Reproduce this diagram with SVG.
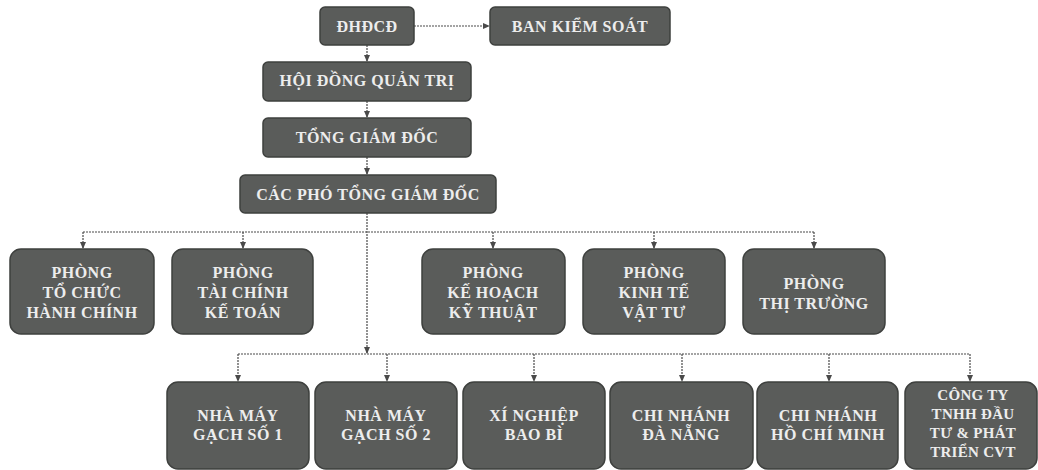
<svg xmlns="http://www.w3.org/2000/svg" width="1038" height="470" viewBox="0 0 1038 470">
<defs>
<marker id="ah" viewBox="0 0 8 8" refX="7" refY="4" markerWidth="7" markerHeight="7" markerUnits="userSpaceOnUse" orient="auto">
<path d="M0,0.5 L8,4 L0,7.5 Z" fill="#4a4a4a"/>
</marker>
</defs>
<style>
.box{fill:#5a5c5a;stroke:#3e403e;stroke-width:1.5}
.t{font-family:"Liberation Serif","Times New Roman",serif;font-weight:bold;fill:#ededed;text-anchor:middle;font-size:16px;letter-spacing:0.5px}
.sm{font-size:15px;letter-spacing:0.3px}
.c{fill:none;stroke:#4a4a4a;stroke-width:1.2;stroke-dasharray:2 1}
</style>
<rect width="1038" height="470" fill="#ffffff"/>
<g id="connectors">
<path class="c" d="M414,26 H489" marker-end="url(#ah)"/>
<path class="c" d="M367,45 V61" marker-end="url(#ah)"/>
<path class="c" d="M367,101 V117" marker-end="url(#ah)"/>
<path class="c" d="M367,157 V174" marker-end="url(#ah)"/>
<path class="c" d="M367,213 V353" marker-end="url(#ah)"/>
<path class="c" d="M83,232 H814"/>
<path class="c" d="M83,232 V248" marker-end="url(#ah)"/>
<path class="c" d="M243,232 V248" marker-end="url(#ah)"/>
<path class="c" d="M493,232 V248" marker-end="url(#ah)"/>
<path class="c" d="M654,232 V248" marker-end="url(#ah)"/>
<path class="c" d="M814,232 V248" marker-end="url(#ah)"/>
<path class="c" d="M238,354 H970"/>
<path class="c" d="M238,354 V381" marker-end="url(#ah)"/>
<path class="c" d="M387,354 V381" marker-end="url(#ah)"/>
<path class="c" d="M534,354 V381" marker-end="url(#ah)"/>
<path class="c" d="M682,354 V381" marker-end="url(#ah)"/>
<path class="c" d="M829,354 V381" marker-end="url(#ah)"/>
<path class="c" d="M970,354 V381" marker-end="url(#ah)"/>
</g>
<g id="dhdcd"><rect class="box" x="320" y="7" width="94" height="38" rx="5"/><text class="t" x="367" y="32">ĐHĐCĐ</text></g>
<g id="bks"><rect class="box" x="490" y="7" width="180" height="38" rx="5"/><text class="t" x="580" y="32">BAN KIỂM SOÁT</text></g>
<g id="hdqt"><rect class="box" x="263" y="62" width="208" height="39" rx="5"/><text class="t" x="367" y="86">HỘI ĐỒNG QUẢN TRỊ</text></g>
<g id="tgd"><rect class="box" x="263" y="118" width="208" height="39" rx="5"/><text class="t" x="367" y="143">TỔNG GIÁM ĐỐC</text></g>
<g id="cptgd"><rect class="box" x="240" y="175" width="256" height="38" rx="5"/><text class="t" x="368" y="200">CÁC PHÓ TỔNG GIÁM ĐỐC</text></g>
<g id="p1"><rect class="box" x="10" y="249" width="144" height="85" rx="11"/><text class="t" x="82" y="278">PHÒNG</text><text class="t" x="82" y="298">TỔ CHỨC</text><text class="t" x="82" y="318">HÀNH CHÍNH</text></g>
<g id="p2"><rect class="box" x="172" y="249" width="141" height="85" rx="11"/><text class="t" x="243" y="278">PHÒNG</text><text class="t" x="243" y="298">TÀI CHÍNH</text><text class="t" x="243" y="318">KẾ TOÁN</text></g>
<g id="p3"><rect class="box" x="422" y="249" width="143" height="85" rx="11"/><text class="t" x="493" y="278">PHÒNG</text><text class="t" x="493" y="298">KẾ HOẠCH</text><text class="t" x="493" y="318">KỸ THUẬT</text></g>
<g id="p4"><rect class="box" x="583" y="249" width="142" height="85" rx="11"/><text class="t" x="654" y="278">PHÒNG</text><text class="t" x="654" y="298">KINH TẾ</text><text class="t" x="654" y="318">VẬT TƯ</text></g>
<g id="p5"><rect class="box" x="743" y="249" width="142" height="85" rx="11"/><text class="t" x="814" y="289">PHÒNG</text><text class="t" x="814" y="309">THỊ TRƯỜNG</text></g>
<g id="c1"><rect class="box" x="167" y="382" width="142" height="87" rx="11"/><text class="t" x="238" y="421">NHÀ MÁY</text><text class="t" x="238" y="440">GẠCH SỐ 1</text></g>
<g id="c2"><rect class="box" x="315" y="382" width="142" height="87" rx="11"/><text class="t" x="386" y="421">NHÀ MÁY</text><text class="t" x="386" y="440">GẠCH SỐ 2</text></g>
<g id="c3"><rect class="box" x="463" y="382" width="142" height="87" rx="11"/><text class="t" x="534" y="421">XÍ NGHIỆP</text><text class="t" x="534" y="440">BAO BÌ</text></g>
<g id="c4"><rect class="box" x="610" y="382" width="143" height="87" rx="11"/><text class="t" x="681" y="421">CHI NHÁNH</text><text class="t" x="681" y="440">ĐÀ NẴNG</text></g>
<g id="c5"><rect class="box" x="757" y="382" width="141" height="87" rx="11"/><text class="t" x="828" y="421">CHI NHÁNH</text><text class="t" x="828" y="440">HỒ CHÍ MINH</text></g>
<g id="c6"><rect class="box" x="905" y="382" width="132" height="87" rx="11"/><text class="t sm" x="973" y="400">CÔNG TY</text><text class="t sm" x="973" y="419">TNHH ĐẦU</text><text class="t sm" x="973" y="438">TƯ &amp; PHÁT</text><text class="t sm" x="973" y="457">TRIỂN CVT</text></g>
</svg>
